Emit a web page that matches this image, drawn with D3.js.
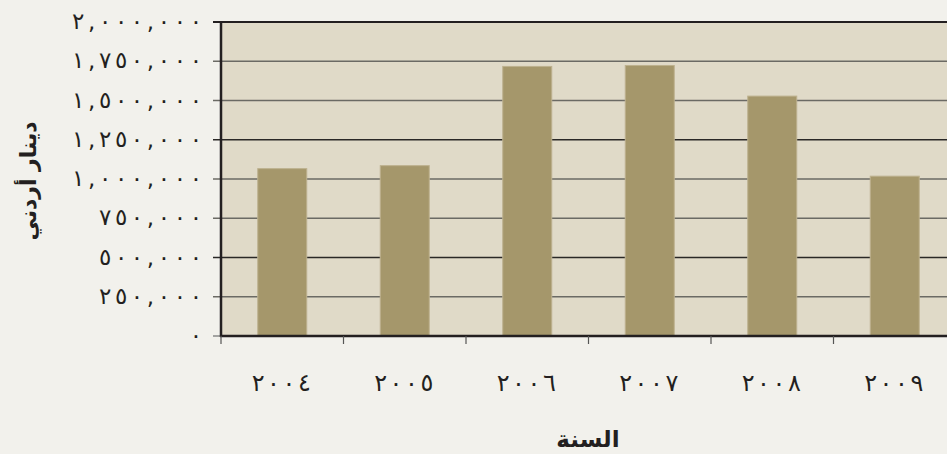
<!DOCTYPE html>
<html lang="ar">
<head>
    <meta charset="UTF-8">
    <title>دينار أردني حسب السنة</title>
    <script src="https://d3js.org/d3.v7.min.js"></script>
</head>
<body style="margin:0;background:#F2F1EC;">
<svg width="947" height="454"></svg>
<style>
    .grid line { stroke: #6b6a64; stroke-width: 1.5px; }
    .bar { fill: #A5976B; stroke: #BDB18E; stroke-width: 1px; }
    .tick-label { font-family: "DejaVu Sans", sans-serif; fill: #231f20; }
    .axis-title { font-family: "DejaVu Sans", sans-serif; font-weight: bold; fill: #231f20; }
</style>
<script>
    // years and values (Jordanian dinars)
    var years = ["2004", "2005", "2006", "2007", "2008", "2009"];
    var values = [1066000, 1085000, 1717000, 1723000, 1528000, 1018000];
    var yTicks = [0, 250000, 500000, 750000, 1000000, 1250000, 1500000, 1750000, 2000000];

    var arabicDigits = "٠١٢٣٤٥٦٧٨٩";
    function toArabic(s) {
        return String(s).replace(/[0-9]/g, d => arabicDigits[+d]);
    }

    // letter-spacing is ignored for arabic runs, so stretch with textLength
    function spread(sel, gap) {
        sel.each(function () {
            var n = this.textContent.length;
            if (n < 2) return;
            var len = this.getComputedTextLength();
            d3.select(this)
                .attr("textLength", len + gap * (n - 1))
                .attr("lengthAdjust", "spacing");
        });
    }

    var svg = d3.select("svg");
    var plotLeft = 221, plotTop = 22, plotBottom = 336;
    var step = 122.5;
    var plotRight = plotLeft + step * years.length;

    var x = d3.scaleBand()
        .domain(years)
        .range([plotLeft, plotRight])
        .paddingInner(0.6)
        .paddingOuter(0.3);

    var y = d3.scaleLinear()
        .domain([0, 2000000])
        .range([plotBottom, plotTop]);

    // plot background
    svg.append("rect")
        .attr("x", plotLeft)
        .attr("y", plotTop)
        .attr("width", plotRight - plotLeft)
        .attr("height", plotBottom - plotTop)
        .attr("fill", "#E0DAC8");

    // gridlines
    svg.append("g")
        .attr("class", "grid")
        .selectAll("line")
        .data(yTicks.filter(d => d > 0 && d < 2000000))
        .enter()
        .append("line")
        .attr("x1", plotLeft - 8)
        .attr("x2", plotRight)
        .attr("y1", d => y(d))
        .attr("y2", d => y(d))
        .style("stroke", (d, i) => i % 3 === 1 ? "#2a2826" : null);

    // bars
    svg.append("g")
        .selectAll("rect")
        .data(years)
        .enter()
        .append("rect")
        .attr("class", "bar")
        .attr("x", d => x(d))
        .attr("width", x.bandwidth())
        .attr("y", (d, i) => y(values[i]))
        .attr("height", (d, i) => plotBottom - y(values[i]));

    // frame lines
    svg.append("line")
        .attr("x1", plotLeft - 8).attr("x2", plotRight)
        .attr("y1", plotTop).attr("y2", plotTop)
        .attr("stroke", "#231f20").attr("stroke-width", 2);
    svg.append("line")
        .attr("x1", plotLeft - 8).attr("x2", plotLeft)
        .attr("y1", plotBottom).attr("y2", plotBottom)
        .attr("stroke", "#888").attr("stroke-width", 1.5);
    svg.append("line")
        .attr("x1", plotLeft).attr("x2", plotLeft)
        .attr("y1", plotTop - 1).attr("y2", plotBottom + 1)
        .attr("stroke", "#231f20").attr("stroke-width", 2.5);
    svg.append("line")
        .attr("x1", plotLeft - 1).attr("x2", plotRight)
        .attr("y1", plotBottom).attr("y2", plotBottom)
        .attr("stroke", "#231f20").attr("stroke-width", 2.5);

    // x ticks at band edges
    svg.append("g")
        .selectAll("line")
        .data(years)
        .enter()
        .append("line")
        .attr("x1", d => x(d) - x.step() * x.paddingOuter())
        .attr("x2", d => x(d) - x.step() * x.paddingOuter())
        .attr("y1", plotBottom)
        .attr("y2", plotBottom + 8)
        .attr("stroke", "#555")
        .attr("stroke-width", 1.2);

    // y tick labels
    svg.append("g")
        .selectAll("text")
        .data(yTicks)
        .enter()
        .append("text")
        .attr("class", "tick-label")
        .attr("x", 202)
        .attr("y", d => y(d) + 7)
        .attr("text-anchor", "end")
        .attr("direction", "ltr")
        .style("font-size", "23px")
        .text(d => toArabic(d3.format(",")(d)))
        .call(spread, 3.6);

    // x tick labels
    svg.append("g")
        .selectAll("text")
        .data(years)
        .enter()
        .append("text")
        .attr("class", "tick-label")
        .attr("x", d => x(d) + x.bandwidth() / 2 - 1)
        .attr("y", 391)
        .attr("text-anchor", "middle")
        .attr("direction", "ltr")
        .style("font-size", "24px")
        .text(d => toArabic(d))
        .call(spread, 2.5);

    // axis titles
    svg.append("text")
        .attr("class", "axis-title")
        .attr("transform", "translate(36,181) rotate(-90)")
        .attr("text-anchor", "middle")
        .style("font-size", "22px")
        .text("دينار أردني");

    svg.append("text")
        .attr("class", "axis-title")
        .attr("x", 588)
        .attr("y", 447)
        .attr("text-anchor", "middle")
        .style("font-size", "23px")
        .text("السنة");
</script>
</body>
</html>
